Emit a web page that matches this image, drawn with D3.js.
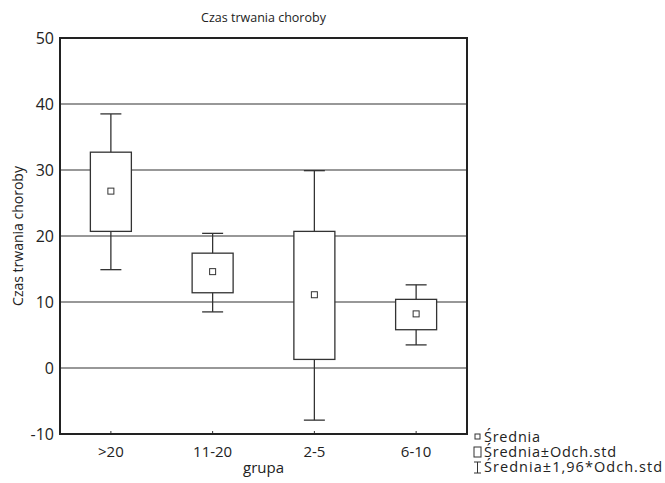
<!DOCTYPE html>
<html>
<head>
<meta charset="utf-8">
<script src="https://cdn.jsdelivr.net/npm/d3@7"></script>
<style>
  body { margin: 0; background: #fff; }
  text { font-family: "Open Sans", "DejaVu Sans", sans-serif; fill: #222; }
</style>
</head>
<body>
<svg id="drawing_region"></svg>
<script>
// data
var groups = ['>20', '11-20', '2-5', '6-10'];
var means = [26.8, 14.6, 11.1, 8.2];
var boxLow = [20.7, 11.4, 1.3, 5.8];
var boxHigh = [32.7, 17.4, 20.7, 10.4];
var whiskLow = [14.9, 8.5, -7.9, 3.5];
var whiskHigh = [38.5, 20.4, 29.9, 12.6];
var yTicks = [-10, 0, 10, 20, 30, 40, 50];
var legendLabels = ['Średnia', 'Średnia±Odch.std', 'Średnia±1,96*Odch.std'];

var config = {
    parent: '#drawing_region',
    width: 665,
    height: 483,
    margin: { top: 38, right: 198, bottom: 49, left: 60 }
};

var data = groups.map((g, i) => ({
    group: g, mean: means[i], lo: boxLow[i], hi: boxHigh[i], wlo: whiskLow[i], whi: whiskHigh[i]
}));

let svg = d3.select(config.parent)
    .attr('width', config.width)
    .attr('height', config.height);

let iw = config.width - config.margin.left - config.margin.right;
let ih = config.height - config.margin.top - config.margin.bottom;

let chart = svg.append('g')
    .attr('transform', `translate(${config.margin.left}, ${config.margin.top})`);

let x = d3.scaleBand().domain(groups).range([0, iw]).padding(0);
let y = d3.scaleLinear().domain([-10, 50]).range([ih, 0]);

// grid lines
chart.selectAll('.grid').data(yTicks.filter(t => t > -10 && t < 50)).enter()
    .append('line')
    .attr('x1', 0).attr('x2', iw)
    .attr('y1', d => y(d)).attr('y2', d => y(d))
    .attr('stroke', '#333').attr('stroke-width', 1.2);

// y axis labels
let yAxis = d3.axisLeft(y).tickValues(yTicks).tickFormat(d => String(d)).tickSize(0).tickPadding(6);
chart.append('g').call(yAxis)
    .call(g => g.select('.domain').remove())
    .selectAll('text')
    .style('font-size', '16px')
    .attr('fill', '#222');

// x axis
let xAxis = d3.axisBottom(x).tickSizeInner(-3).tickSizeOuter(0).tickPadding(12);
chart.append('g')
    .attr('transform', `translate(0, ${ih})`)
    .call(xAxis)
    .call(g => g.select('.domain').remove())
    .call(g => g.selectAll('.tick line').attr('stroke', '#333'))
    .selectAll('text')
    .style('font-size', '15px')
    .attr('fill', '#222');

let bw = 41, cw = 21;

let box = chart.selectAll('.box').data(data).enter().append('g')
    .attr('transform', d => `translate(${x(d.group) + x.bandwidth() / 2}, 0)`);

// whiskers
box.append('line')
    .attr('x1', 0).attr('x2', 0)
    .attr('y1', d => y(d.whi)).attr('y2', d => y(d.wlo))
    .attr('stroke', '#333').attr('stroke-width', 1.3);
box.append('line')
    .attr('x1', -cw / 2).attr('x2', cw / 2)
    .attr('y1', d => y(d.whi)).attr('y2', d => y(d.whi))
    .attr('stroke', '#333').attr('stroke-width', 1.3);
box.append('line')
    .attr('x1', -cw / 2).attr('x2', cw / 2)
    .attr('y1', d => y(d.wlo)).attr('y2', d => y(d.wlo))
    .attr('stroke', '#333').attr('stroke-width', 1.3);

// boxes
box.append('rect')
    .attr('x', -bw / 2).attr('width', bw)
    .attr('y', d => y(d.hi))
    .attr('height', d => y(d.lo) - y(d.hi))
    .attr('fill', 'white').attr('stroke', '#333').attr('stroke-width', 1.3);

// means
box.append('rect')
    .attr('x', -3).attr('width', 6)
    .attr('y', d => y(d.mean) - 3).attr('height', 6)
    .attr('fill', 'white').attr('stroke', '#333').attr('stroke-width', 1);

// frame
chart.append('rect')
    .attr('x', 0).attr('y', 0).attr('width', iw).attr('height', ih)
    .attr('fill', 'none').attr('stroke', '#222').attr('stroke-width', 2);

// titles
svg.append('text')
    .attr('x', config.margin.left + iw / 2).attr('y', 22)
    .attr('text-anchor', 'middle').style('font-size', '12.5px')
    .text('Czas trwania choroby');

svg.append('text')
    .attr('x', config.margin.left + iw / 2).attr('y', 473)
    .attr('text-anchor', 'middle').style('font-size', '15px')
    .text('grupa');

svg.append('text')
    .attr('transform', `translate(23, ${config.margin.top + ih / 2}) rotate(-90)`)
    .attr('text-anchor', 'middle').style('font-size', '14px')
    .text('Czas trwania choroby');

// legend
let lg = svg.append('g').attr('transform', 'translate(474, 437)');
let rowH = 15;
let legendLen = [56, 132, 178];
lg.append('rect').attr('x', 1).attr('y', -3).attr('width', 5).attr('height', 5)
    .attr('fill', 'white').attr('stroke', '#333').attr('stroke-width', 1);
lg.append('rect').attr('x', 0).attr('y', rowH - 5).attr('width', 7).attr('height', 10)
    .attr('fill', 'white').attr('stroke', '#333').attr('stroke-width', 1);
lg.append('line').attr('x1', 3.5).attr('x2', 3.5).attr('y1', 2 * rowH - 5).attr('y2', 2 * rowH + 6)
    .attr('stroke', '#333');
lg.append('line').attr('x1', 0).attr('x2', 7).attr('y1', 2 * rowH - 5).attr('y2', 2 * rowH - 5)
    .attr('stroke', '#333');
lg.append('line').attr('x1', 0).attr('x2', 7).attr('y1', 2 * rowH + 6).attr('y2', 2 * rowH + 6)
    .attr('stroke', '#333');
lg.selectAll('.lt').data(legendLabels).enter()
    .append('text')
    .attr('x', 10).attr('y', (d, i) => i * rowH + 5)
    .style('font-size', '14.5px')
    .attr('textLength', (d, i) => legendLen[i])
    .text(d => d);
</script>
</body>
</html>
